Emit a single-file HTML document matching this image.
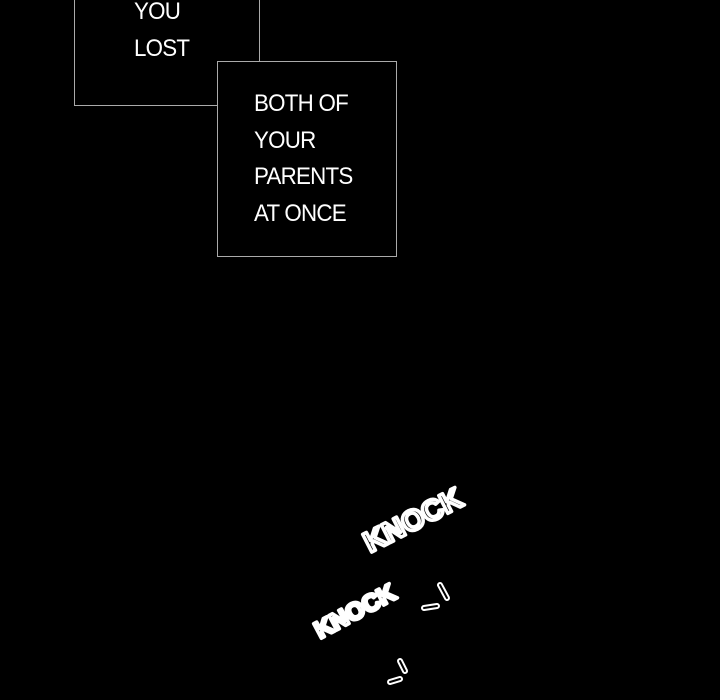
<!DOCTYPE html>
<html><head><style>
body{margin:0;background:#000;width:720px;height:700px;overflow:hidden;position:relative;font-family:"Liberation Sans",sans-serif}
.b{position:absolute;border:1px solid #aaa;background:#000}
.t{position:absolute;color:#fff;font-size:24px;line-height:36.5px;letter-spacing:-0.8px;transform:scaleX(0.93);transform-origin:left top}
</style></head><body>
<div class="b" style="left:74px;top:-5px;width:184px;height:109px"></div>
<div class="t" style="left:134px;top:-6px">YOU<br>LOST</div>
<div class="b" style="left:217px;top:61px;width:178px;height:194px"></div>
<div class="t" style="left:254px;top:86px">BOTH OF<br>YOUR<br>PARENTS<br>AT ONCE</div>
<svg width="720" height="700" style="position:absolute;left:0;top:0">
<g font-family="Liberation Sans" font-weight="bold" fill="#000" stroke="#fff" stroke-width="3.5" stroke-linejoin="round">
<text x="0" y="0" font-size="29" transform="translate(370,553) rotate(-27)">KNOCK</text>
<text x="0" y="0" font-size="24" transform="translate(320,639) rotate(-28)">KNOCK</text>
</g>
<g stroke="#fff" stroke-width="6" stroke-linecap="round" fill="none">
<line x1="424" y1="608" x2="437" y2="606"/>
<line x1="440" y1="585" x2="447" y2="598"/>
<line x1="390" y1="682" x2="400" y2="679"/>
<line x1="400" y1="661" x2="405" y2="671"/>
</g>
<g stroke="#000" stroke-width="2" stroke-linecap="round" fill="none">
<line x1="424" y1="608" x2="437" y2="606"/>
<line x1="440" y1="585" x2="447" y2="598"/>
<line x1="390" y1="682" x2="400" y2="679"/>
<line x1="400" y1="661" x2="405" y2="671"/>
</g>
</svg>
</body></html>
